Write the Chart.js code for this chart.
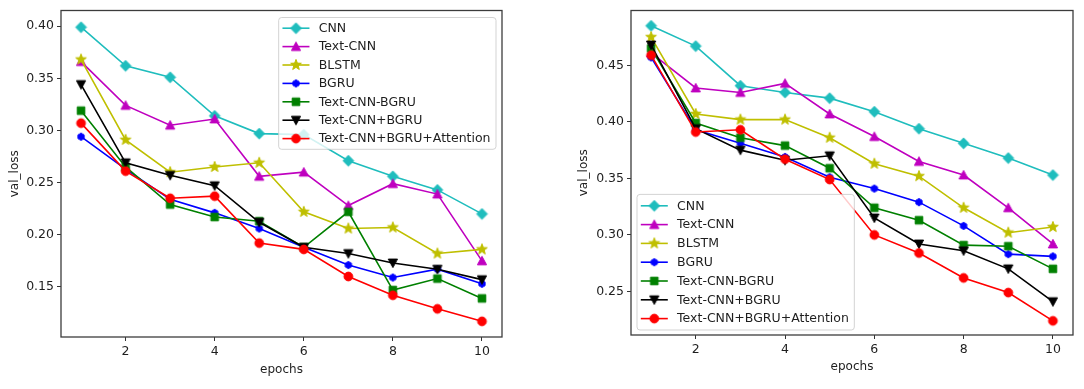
<!DOCTYPE html>
<html><head><meta charset="utf-8">
<script src="https://cdn.jsdelivr.net/npm/chart.js@4/dist/chart.umd.min.js"></script>
<style>
html,body{margin:0;padding:0;background:#fff;width:1084px;height:389px;overflow:hidden}
.panel{position:absolute;top:0;height:389px}
#p1{left:0;width:520px}
#p2{left:570px;width:514px}
</style></head><body>
<div class="panel" id="p1"><canvas id="c1" width="520" height="389"></canvas></div>
<div class="panel" id="p2"><canvas id="c2" width="514" height="389"></canvas></div>
<script>
// ---- data ----
const epochs = [1,2,3,4,5,6,7,8,9,10];
const seriesNames = ['CNN','Text-CNN','BLSTM','BGRU','Text-CNN-BGRU','Text-CNN+BGRU','Text-CNN+BGRU+Attention'];
const xTicks = [2,4,6,8,10];
const leftYTicks = [0.15,0.20,0.25,0.30,0.35,0.40];
const rightYTicks = [0.25,0.30,0.35,0.40,0.45];

const leftCNN      = [0.399,0.362,0.351,0.314,0.297,0.296,0.271,0.256,0.243,0.220];
const leftTextCNN  = [0.366,0.324,0.305,0.311,0.256,0.260,0.228,0.249,0.239,0.175];
const leftBLSTM    = [0.368,0.291,0.260,0.265,0.269,0.222,0.206,0.207,0.182,0.186];
const leftBGRU     = [0.294,0.263,0.234,0.221,0.206,0.188,0.171,0.159,0.167,0.153];
const leftTCB      = [0.319,0.265,0.229,0.217,0.213,0.188,0.222,0.147,0.158,0.139];
const leftTCpB     = [0.344,0.269,0.257,0.247,0.212,0.188,0.182,0.173,0.167,0.157];
const leftAtt      = [0.307,0.261,0.235,0.237,0.192,0.186,0.160,0.142,0.129,0.117];

const rightCNN     = [0.485,0.467,0.432,0.426,0.421,0.409,0.394,0.381,0.368,0.353];
const rightTextCNN = [0.461,0.430,0.426,0.434,0.407,0.387,0.365,0.353,0.324,0.292];
const rightBLSTM   = [0.475,0.407,0.402,0.402,0.386,0.363,0.352,0.324,0.302,0.307];
const rightBGRU    = [0.457,0.393,0.381,0.369,0.351,0.341,0.329,0.308,0.283,0.281];
const rightTCB     = [0.465,0.399,0.386,0.379,0.359,0.324,0.313,0.291,0.290,0.270];
const rightTCpB    = [0.468,0.394,0.375,0.366,0.370,0.315,0.292,0.286,0.270,0.241];
const rightAtt     = [0.459,0.391,0.393,0.367,0.349,0.300,0.284,0.262,0.249,0.224];

// ---- styles ----
const colors  = ['#1fbdbd','#bf00bf','#bfbf00','#0000ff','#008000','#000000','#ff0000'];
const shapes  = ['D','^','*','h','s','v','o'];
const msizes  = [5.4,4.6,5.6,3.6,3.8,4.6,4.4];
const FONT = '"DejaVu Sans", "Liberation Sans", sans-serif';
const TXT = '#1e1e1e';

function makeMarker(shape, color, r){
  const size = Math.ceil(r*2+4);
  const c = document.createElement('canvas'); c.width = size; c.height = size;
  const g = c.getContext('2d'); const cx = size/2, cy = size/2;
  g.fillStyle = color; g.strokeStyle = color; g.lineWidth = 1;
  g.beginPath();
  if (shape==='D'){ g.moveTo(cx,cy-r); g.lineTo(cx+r,cy); g.lineTo(cx,cy+r); g.lineTo(cx-r,cy); }
  else if (shape==='^'){ g.moveTo(cx,cy-r); g.lineTo(cx+r,cy+r*0.85); g.lineTo(cx-r,cy+r*0.85); }
  else if (shape==='v'){ g.moveTo(cx,cy+r); g.lineTo(cx+r,cy-r*0.85); g.lineTo(cx-r,cy-r*0.85); }
  else if (shape==='s'){ g.rect(cx-r,cy-r,2*r,2*r); }
  else if (shape==='o'){ g.arc(cx,cy,r,0,Math.PI*2); }
  else if (shape==='*'){ for(let i=0;i<10;i++){ const a=-Math.PI/2+i*Math.PI/5; const rr=(i%2)?r*0.42:r; const px=cx+rr*Math.cos(a), py=cy+rr*Math.sin(a); i?g.lineTo(px,py):g.moveTo(px,py);} }
  else if (shape==='h'){ for(let i=0;i<6;i++){ const a=-Math.PI/2+i*Math.PI/3; const px=cx+r*Math.cos(a), py=cy+r*Math.sin(a); i?g.lineTo(px,py):g.moveTo(px,py);} }
  g.closePath(); g.fill(); g.stroke();
  return c;
}
const markers = shapes.map((s,i)=>makeMarker(s, colors[i], msizes[i]));

function buildDatasets(arrs){
  return arrs.map((vals,i)=>({
    label: seriesNames[i],
    data: epochs.map((e,k)=>({x:e, y:vals[k]})),
    borderColor: colors[i], backgroundColor: colors[i],
    borderWidth: 1.6, pointStyle: markers[i], pointRadius: 4, pointHoverRadius: 4,
    tension: 0, fill: false, order: arrs.length - i
  }));
}

const framePlugin = {
  id: 'frame',
  afterDatasetsDraw(chart){
    const {ctx, chartArea:a} = chart;
    ctx.save(); ctx.strokeStyle = '#3c3c3c'; ctx.lineWidth = 1.3;
    ctx.strokeRect(a.left, a.top, a.right-a.left, a.bottom-a.top);
    ctx.restore();
  }
};

const legendPlugin = {
  id: 'mplLegend',
  afterDraw(chart, args, o){
    const {ctx, chartArea:a} = chart;
    const ds = chart.data.datasets;
    ctx.save();
    ctx.font = '12.5px ' + FONT;
    const tw = Math.max(...ds.map(d=>ctx.measureText(d.label).width));
    const padL = 3.8, handle = 27, gap = 9.3, padR = 5.5, inner = o.inner;
    const w = padL + handle + gap + tw + padR;
    const h = 2*inner + o.row*ds.length;
    let x0, y0;
    if (o.corner === 'ne'){ x0 = a.right - o.dx - w; y0 = a.top + o.dy; }
    else { x0 = a.left + o.dx; y0 = a.bottom - o.dy - h; }
    const r = 3;
    ctx.beginPath();
    ctx.moveTo(x0+r,y0); ctx.lineTo(x0+w-r,y0); ctx.arcTo(x0+w,y0,x0+w,y0+r,r);
    ctx.lineTo(x0+w,y0+h-r); ctx.arcTo(x0+w,y0+h,x0+w-r,y0+h,r);
    ctx.lineTo(x0+r,y0+h); ctx.arcTo(x0,y0+h,x0,y0+h-r,r);
    ctx.lineTo(x0,y0+r); ctx.arcTo(x0,y0,x0+r,y0,r); ctx.closePath();
    ctx.fillStyle = 'rgba(255,255,255,0.8)'; ctx.fill();
    ctx.strokeStyle = 'rgba(200,200,200,0.8)'; ctx.lineWidth = 1; ctx.stroke();
    ds.forEach((d,i)=>{
      const cy = y0 + inner + o.row*(i+0.5);
      const lx = x0 + padL;
      ctx.beginPath(); ctx.strokeStyle = d.borderColor; ctx.lineWidth = d.borderWidth;
      ctx.moveTo(lx, cy); ctx.lineTo(lx+handle, cy); ctx.stroke();
      const m = d.pointStyle;
      ctx.drawImage(m, lx + handle/2 - m.width/2, cy - m.height/2);
      ctx.fillStyle = TXT; ctx.textBaseline = 'middle'; ctx.textAlign = 'left';
      ctx.fillText(d.label, lx + handle + gap, cy + 0.5);
    });
    ctx.restore();
  }
};

function makeChart(id, arrs, yMin, yMax, yTicks, pad, xAxisH, xTitlePad, yTitlePad, legendOpts){
  return new Chart(document.getElementById(id), {
    type: 'line',
    data: { datasets: buildDatasets(arrs) },
    options: {
      responsive: false, animation: false, events: [],
      layout: { padding: pad },
      plugins: { legend: {display:false}, tooltip: {enabled:false}, mplLegend: legendOpts },
      scales: {
        x: {
          type: 'linear', min: 0.55, max: 10.45,
          afterBuildTicks: s => { s.ticks = xTicks.map(v=>({value:v})); },
          afterFit: s => { s.height = xAxisH; },
          ticks: { color:TXT, font:{family:FONT, size:12.5}, padding: 3, maxRotation: 0,
                   callback: v => String(v) },
          grid: { display:true, drawOnChartArea:false, drawTicks:true, tickLength:4, tickColor:'#333', tickWidth:1 },
          border: { display:false },
          title: { display:true, text:'epochs', color:TXT, font:{family:FONT, size:12}, padding:{top:0,bottom:xTitlePad} }
        },
        y: {
          type: 'linear', min: yMin, max: yMax,
          afterBuildTicks: s => { s.ticks = yTicks.map(v=>({value:v})); },
          afterFit: s => { s.width = 61; },
          ticks: { color:TXT, font:{family:FONT, size:12.5}, padding: 3,
                   callback: v => Number(v).toFixed(2) },
          grid: { display:true, drawOnChartArea:false, drawTicks:true, tickLength:4, tickColor:'#333', tickWidth:1 },
          border: { display:false },
          title: { display:true, text:'val_loss', color:TXT, font:{family:FONT, size:12}, padding:{top:yTitlePad,bottom:0} }
        }
      }
    },
    plugins: [framePlugin, legendPlugin]
  });
}

makeChart('c1', [leftCNN,leftTextCNN,leftBLSTM,leftBGRU,leftTCB,leftTCpB,leftAtt],
  0.1020, 0.4150, leftYTicks, {top:9,right:18,bottom:0,left:0}, 52, 11.8, 7.8,
  {corner:'ne', dx:6, dy:7, row:18.4, inner:1.5});
makeChart('c2', [rightCNN,rightTextCNN,rightBLSTM,rightBGRU,rightTCB,rightTCpB,rightAtt],
  0.2115, 0.4985, rightYTicks, {top:7,right:11,bottom:0,left:0}, 54, 14.8, 6.8,
  {corner:'sw', dx:6, dy:5, row:18.8, inner:2});
</script>
</body></html>
